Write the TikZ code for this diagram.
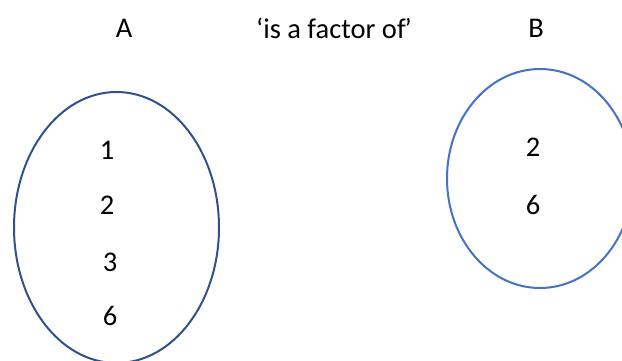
\documentclass[tikz,border=0pt]{standalone}
\usepackage{fontspec}
\setmainfont{Carlito}
\begin{document}
\begin{tikzpicture}[x=1pt,y=-1pt,
  lbl/.style={font=\fontsize{28.5}{32}\selectfont, inner sep=0pt, anchor=center},
  setA/.style={draw={rgb,255:red,47;green,82;blue,143}, line width=2pt},
  setB/.style={draw={rgb,255:red,68;green,114;blue,196}, line width=2pt}]
\useasboundingbox (0,0) rectangle (622,361);
\begin{scope}
\clip (0,0) rectangle (622,361);
\draw[setA] (116.5,227.5) ellipse [x radius=102.5, y radius=135.5];
\draw[setB] (540,178.5) ellipse [x radius=93, y radius=109.5];
\end{scope}
\node[lbl] (tA) at (124,28) {A};
\node[lbl] (rel) at (334,28) {‘is a factor of\kern-1pt’};
\node[lbl] (tB) at (536,28) {B};
\node[lbl] (a1) at (107,150) {1};
\node[lbl] (a2) at (107,205) {2};
\node[lbl] (a3) at (110,262) {3};
\node[lbl] (a6) at (110,316) {6};
\node[lbl] (b2) at (533,147) {2};
\node[lbl] (b6) at (533,205) {6};
\end{tikzpicture}
\end{document}
